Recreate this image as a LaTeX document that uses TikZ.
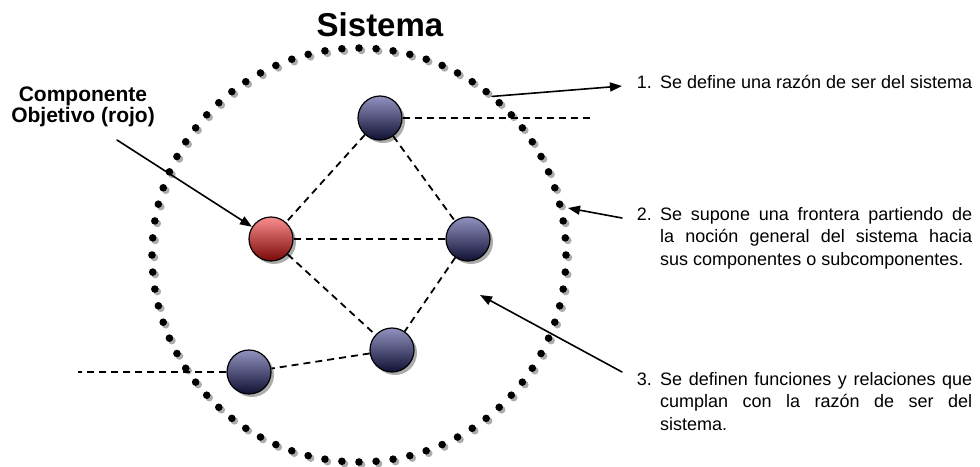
\documentclass[tikz,border=0pt]{standalone}
\usepackage{fontspec}
\setmainfont{Liberation Sans}
\usetikzlibrary{arrows.meta,shadows}
\definecolor{compTop}{RGB}{146,146,192}
\definecolor{compBot}{RGB}{16,16,52}
\definecolor{rojoTop}{RGB}{250,142,142}
\definecolor{rojoBot}{RGB}{122,8,8}
\tikzset{
	comp/.style={circle, draw=black, line width=1.2pt, minimum size=44pt, inner sep=0pt,
		drop shadow={shadow xshift=3pt, shadow yshift=-3pt, fill=gray!65, opacity=1}},
	azul/.style={comp, top color=compTop, bottom color=compBot},
	rojo/.style={comp, top color=rojoTop, bottom color=rojoBot},
	enlace/.style={dash pattern=on 7pt off 5pt, line width=1.8pt, line cap=butt},
	flecha/.style={-{Triangle[length=12pt,width=9pt]}, line width=1.6pt},
	num/.style={anchor=base east, inner sep=0pt, font=\fontsize{18}{22.5}\selectfont},
	itemtxt/.style={anchor=north west, inner sep=0pt, text width=312pt, align=justify,
		font=\fontsize{18}{22.5}\selectfont, execute at begin node={\hyphenpenalty=10000\relax}},
}
\begin{document}
\begin{tikzpicture}[x=1pt, y=-1pt, line join=round, line cap=round]
	\useasboundingbox (0,0) rectangle (980,466);
	\path
	(359,255) coordinate (C)
	(117,140) coordinate (A0)
	(622,86) coordinate (A1)
	(622,218) coordinate (A2)
	(568,208) coordinate (B2)
	(622,372) coordinate (A3)
	(480,295) coordinate (B3)
	(590,118) coordinate (D1)
	(78,372) coordinate (D2)
	;
	\path (C) ++(-50:207) coordinate (B1);
	% frontera punteada
	\foreach \a in {0,...,75}{
		\fill[gray!65] (C) ++({-90+\a*(360/76)}:207) ++(2.5,2.5) circle (3.8pt);
		\fill[black] (C) ++({-90+\a*(360/76)}:207) circle (3.8pt);
	}
	\node[font=\bfseries\fontsize{33}{36}\selectfont] (titulo) at (380,25) {Sistema};
	\node[font=\bfseries\fontsize{21}{21}\selectfont, align=center] (etiq) at (83,107) {Componente\\Objetivo (rojo)};
	% componentes
	\node[azul] (sup) at (380,118) {};
	\node[rojo] (obj) at (271,239) {};
	\node[azul] (der) at (468,239) {};
	\node[azul] (inf) at (392,350) {};
	\node[azul] (izq) at (249,372) {};
	\draw[enlace] (sup) -- (obj);
	\draw[enlace] (sup) -- (der);
	\draw[enlace] (obj) -- (der);
	\draw[enlace] (obj) -- (inf);
	\draw[enlace] (der) -- (inf);
	\draw[enlace] (inf) -- (izq);
	\draw[enlace] (sup.east) -- (D1);
	\draw[enlace] (izq.west) -- (D2);
	\draw[flecha] (A0) -- (obj);
	% textos
	\node[num] (n1) at (652,88) {1.};
	\node[itemtxt] (t1) at (660,75) {Se define una razón de ser del sistema};
	\node[num] (n2) at (652,220) {2.};
	\node[itemtxt] (t2) at (660,207) {Se supone una frontera partiendo de\linebreak la noción general del sistema hacia\linebreak sus componentes o subcomponentes.};
	\node[num] (n3) at (652,385) {3.};
	\node[itemtxt] (t3) at (660,372) {Se definen funciones y relaciones que\linebreak cumplan con la razón de ser del\linebreak sistema.};
	\draw[flecha] (B1) -- (A1);
	\draw[flecha] (A2) -- (B2);
	\draw[flecha] (A3) -- (B3);
\end{tikzpicture}
\end{document}
